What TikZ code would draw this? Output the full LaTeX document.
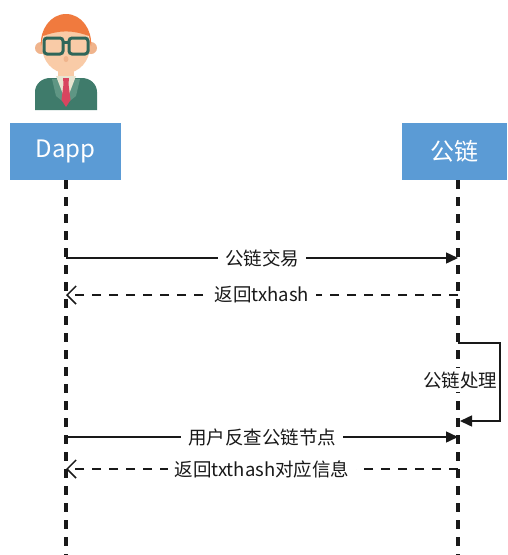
\documentclass[tikz,border=0pt]{standalone}
\usepackage{fontspec}
\setmainfont{Noto Sans CJK SC}
\usetikzlibrary{arrows.meta}
\definecolor{boxblue}{RGB}{91,155,213}
\definecolor{skin}{RGB}{249,203,167}
\definecolor{skindark}{RGB}{240,180,140}
\definecolor{hair}{RGB}{240,122,62}
\definecolor{glass}{RGB}{47,102,89}
\definecolor{suit}{RGB}{63,123,107}
\definecolor{lapel}{RGB}{95,150,132}
\definecolor{shirt}{RGB}{232,228,208}
\definecolor{tie}{RGB}{217,69,95}
\definecolor{ink}{RGB}{25,25,25}
\tikzset{
  actor/.style={fill=boxblue, text=white, minimum width=111pt, minimum height=57pt,
    inner sep=0pt, font=\fontsize{24}{28}\selectfont},
  lifeline/.style={ink, line width=4pt, dash pattern=on 9pt off 8pt},
  call/.style={ink, line width=1.5pt, -{Triangle[length=12pt,width=11pt]}},
  reply/.style={ink, line width=1.5pt, dash pattern=on 9pt off 8pt,
    -{Straight Barb[length=9pt,width=18pt,line width=1.5pt]}},
  lbl/.style={fill=white, inner xsep=7pt, inner ysep=3pt, text=ink,
    font=\fontsize{18.5}{22}\selectfont}
}
\begin{document}
\begin{tikzpicture}[x=1pt,y=-1pt]
\useasboundingbox[fill=white] (0,0) rectangle (507,555);

% user figure above the Dapp column
\fill[suit] (35,110) -- (35,92) to[out=90,in=180] (50,78) -- (82,78) to[out=0,in=90] (97,92) -- (97,110) -- cycle;
\fill[lapel] (52,79) -- (60,79) -- (66,104) -- (56,96) -- cycle;
\fill[lapel] (80,79) -- (72,79) -- (66,104) -- (76,96) -- cycle;
\fill[skin] (58,64) rectangle (74,80);
\fill[shirt] (56,76) -- (76,76) -- (66,102) -- cycle;
\fill[tie] (63,78) -- (69,78) -- (68.5,84) -- (63.5,84) -- cycle;
\fill[tie] (63.5,84) -- (68.5,84) -- (70.5,100) -- (66,107) -- (61.5,100) -- cycle;
\fill[skindark] (41,48) circle (6);
\fill[skindark] (91,48) circle (6);
\fill[skin] (66,46) ellipse (24 and 27);
\fill[hair] (41,46) to[out=95,in=180] (66,14) to[out=0,in=85] (91,46) -- (89,36) to[out=160,in=20] (43,36) -- cycle;
\draw[glass, line width=3pt, rounded corners=3pt] (44,38) rectangle (63,54);
\draw[glass, line width=3pt, rounded corners=3pt] (69,38) rectangle (88,54);
\draw[glass, line width=3pt] (63,42) -- (69,42);
\fill[skindark] (66,59) ellipse (2.5 and 3);

% participants
\node[actor] (dapp) at (65.5,151.5) {Dapp};
\node[actor, minimum width=105pt] (chain) at (454.5,151.5) {公链};

% lifelines
\coordinate (dtop) at (66,180);
\coordinate (dbot) at (66,555);
\coordinate (ctop) at (458,180);
\coordinate (cbot) at (458,555);
\draw[lifeline] (dtop) -- (dbot);
\draw[lifeline] (ctop) -- (cbot);

% message anchors on the lifelines
\coordinate (d1) at (66,258);  \coordinate (c1) at (458,258);
\coordinate (d2) at (66,295);  \coordinate (c2) at (458,295);
\coordinate (d3) at (66,437);  \coordinate (c3) at (458,437);
\coordinate (d4) at (66,469);  \coordinate (c4) at (458,469);
\coordinate (s1) at (458,343); \coordinate (s2) at (500,343);
\coordinate (s3) at (500,421); \coordinate (s4) at (460,421);

% messages
\draw[call] (d1) -- node[lbl] {公链交易} (c1);
\draw[reply] (c2) -- node[lbl] {返回txhash} (d2);
\draw[call] (s1) -- (s2) -- (s3) -- (s4);
\node[lbl, inner xsep=2pt] (proc) at (460,380) {公链处理};
\draw[call] (d3) -- node[lbl] {用户反查公链节点} (c3);
\draw[reply] (c4) -- node[lbl] {返回txthash对应信息} (d4);
\end{tikzpicture}
\end{document}
